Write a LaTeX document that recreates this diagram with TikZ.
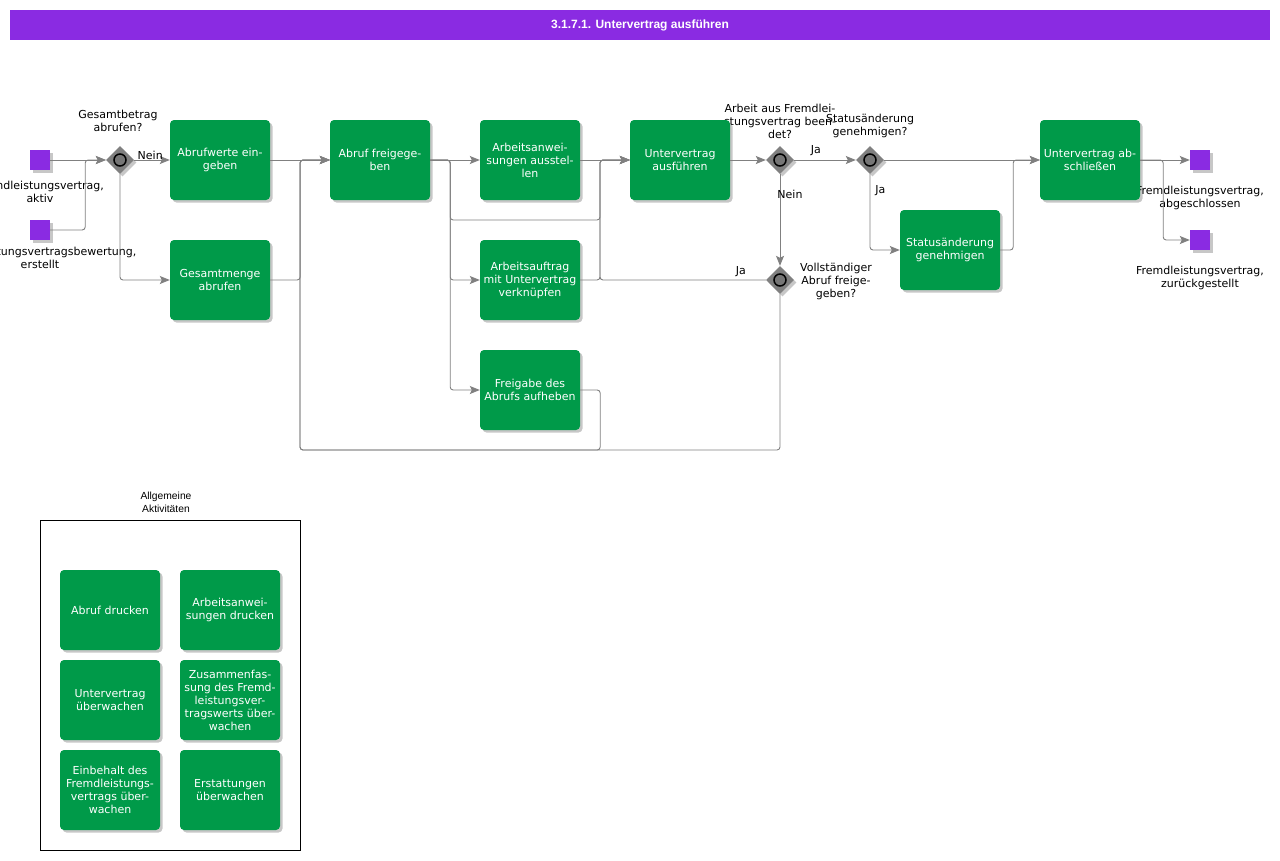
\documentclass[tikz,border=0pt]{standalone}
\usepackage{fontspec}
\setmainfont{DejaVu Sans}
\newfontfamily\libsans{Liberation Sans}
\usetikzlibrary{shapes.geometric,shadows,arrows.meta,calc}
\definecolor{bpurple}{HTML}{8A2BE2}
\definecolor{bgreen}{HTML}{009A49}
\definecolor{lgray}{HTML}{808080}
\begin{document}
\begin{tikzpicture}[x=1pt,y=-1pt,
 shad/.style={drop shadow={shadow xshift=2.5pt,shadow yshift=-2.5pt,fill=black,opacity=0.22}},
 task/.style={rectangle, rounded corners=4pt, fill=bgreen, text=white, minimum width=100pt, minimum height=80pt, inner sep=0pt, align=center, font=\fontsize{11}{13}\selectfont, shad},
 evt/.style={rectangle, fill=bpurple, minimum size=20pt, inner sep=0pt, shad},
 gw/.style={diamond, fill=lgray, minimum width=28pt, minimum height=28pt, inner sep=0pt, shad,
   path picture={\draw[black,line width=1.5pt,fill=lgray!92!black] (path picture bounding box.center) circle (6pt);}},
 lbl/.style={font=\fontsize{11}{13}\selectfont, align=center, inner sep=1pt, text=black},
 conn/.style={draw=lgray, line width=0.9pt, rounded corners=3pt, -{Stealth[length=10pt,width=8pt,inset=2pt]}}
]
\useasboundingbox (0,0) rectangle (1280,860);
\fill[white] (0,0) rectangle (1280,860);

% title bar
\node[rectangle, fill=bpurple, minimum width=1260pt, minimum height=30pt, inner sep=0pt, text=white,
  font=\libsans\bfseries\fontsize{12}{14}\selectfont] (title) at (640,25) {3.1.7.1. Untervertrag ausführen};

% events
\node[evt] (s1) at (40,160) {};
\node[evt] (s2) at (40,230) {};
\node[evt] (e1) at (1200,160) {};
\node[evt] (e2) at (1200,240) {};
\node[lbl] (s1l) at (40,191.5) {Fremdleistungsvertrag,\\aktiv};
\node[lbl] (s2l) at (40,257.5) {Fremdleistungsvertragsbewertung,\\erstellt};
\node[lbl] (e1l) at (1200,197.5) {Fremdleistungsvertrag,\\abgeschlossen};
\node[lbl] (e2l) at (1200,277.5) {Fremdleistungsvertrag,\\zurückgestellt};

% gateways
\node[gw] (g1) at (120,160) {};
\node[gw] (g2) at (780,160) {};
\node[gw] (g3) at (870,160) {};
\node[gw] (g4) at (780,280) {};
\node[lbl] (g1l) at (118,120.5) {Gesamtbetrag\\abrufen?};
\node[lbl] (g2l) at (780,121) {Arbeit aus Fremdlei-\\stungsvertrag been-\\det?};
\node[lbl] (g3l) at (870,125.5) {Statusänderung\\genehmigen?};
\node[lbl] (g4l) at (836,281) {Vollständiger\\Abruf freige-\\geben?};

% tasks
\node[task] (t1) at (220,160) {Abrufwerte ein-\\geben};
\node[task] (t2) at (220,280) {Gesamtmenge\\abrufen};
\node[task] (t3) at (380,160) {Abruf freigege-\\ben};
\node[task] (t4) at (530,160) {Arbeitsanwei-\\sungen ausstel-\\len};
\node[task] (t5) at (530,280) {Arbeitsauftrag\\mit Untervertrag\\verknüpfen};
\node[task] (t6) at (530,390) {Freigabe des\\Abrufs aufheben};
\node[task] (t7) at (680,160) {Untervertrag\\ausführen};
\node[task] (t8) at (950,250) {Statusänderung\\genehmigen};
\node[task] (t9) at (1090,160) {Untervertrag ab-\\schließen};

% helper coordinates
\coordinate (loopL) at (300,450);
\coordinate (jA) at (600,220);
\coordinate (jB) at (600,280);

% connectors
\draw[conn] (s1.east) -- (g1.west);
\draw[conn] (s2.east) -- ++(35,0) |- (g1.west);
\draw[conn] (g1.east) -- node[lbl, above, pos=0.45, yshift=-1pt] {Nein} (t1.west);
\draw[conn] (g1.south) |- (t2.west);
\draw[conn] (t1.east) -- (t3.west);
\draw[conn] (t2.east) -- ++(30,0) |- (t3.west);
\draw[conn] (g4.south) |- (loopL) |- (t3.west);
\draw[conn] (t6.east) -- ++(20,0) |- (loopL) |- (t3.west);
\draw[conn] (t3.east) -- (t4.west);
\draw[conn] (t3.east) -- ++(20,0) |- (t5.west);
\draw[conn] (t3.east) -- ++(20,0) |- (t6.west);
\draw[conn] (t3.east) -- ++(20,0) |- (jA) |- (t7.west);
\draw[conn] (t4.east) -- (t7.west);
\draw[conn] (t5.east) -- (jB) |- (t7.west);
\draw[conn] (g4.west) -- node[lbl, above, pos=0.15, yshift=2pt] {Ja} (jB) |- (t7.west);
\draw[conn] (t7.east) -- (g2.west);
\draw[conn] (g2.east) -- node[lbl, above, pos=0.35, yshift=3pt] {Ja} (g3.west);
\draw[conn] (g2.south) -- node[lbl, anchor=west, pos=0.22, xshift=-4pt] {Nein} (g4.north);
\draw[conn] (g3.east) -- (t9.west);
\draw[conn] (g3.south) |- node[lbl, anchor=west, pos=0.11, xshift=4pt] {Ja} (t8.west);
\draw[conn] (t8.east) -- ++(13,0) |- (t9.west);
\draw[conn] (t9.east) -- (e1.west);
\draw[conn] (t9.east) -- ++(23,0) |- (e2.west);

% legend
\node[draw=black, line width=0.8pt, minimum width=260pt, minimum height=330pt, inner sep=0pt] (legend) at (170,685) {};
\node[lbl, font=\libsans\fontsize{10.3}{13}\selectfont] (legendl) at (166,502.5) {Allgemeine\\Aktivitäten};
\node[task] (a1) at (110,610) {Abruf drucken};
\node[task] (a2) at (230,610) {Arbeitsanwei-\\sungen drucken};
\node[task] (a3) at (110,700) {Untervertrag\\überwachen};
\node[task] (a4) at (230,700) {Zusammenfas-\\sung des Fremd-\\leistungsver-\\tragswerts über-\\wachen};
\node[task] (a5) at (110,790) {Einbehalt des\\Fremdleistungs-\\vertrags über-\\wachen};
\node[task] (a6) at (230,790) {Erstattungen\\überwachen};
\end{tikzpicture}
\end{document}
